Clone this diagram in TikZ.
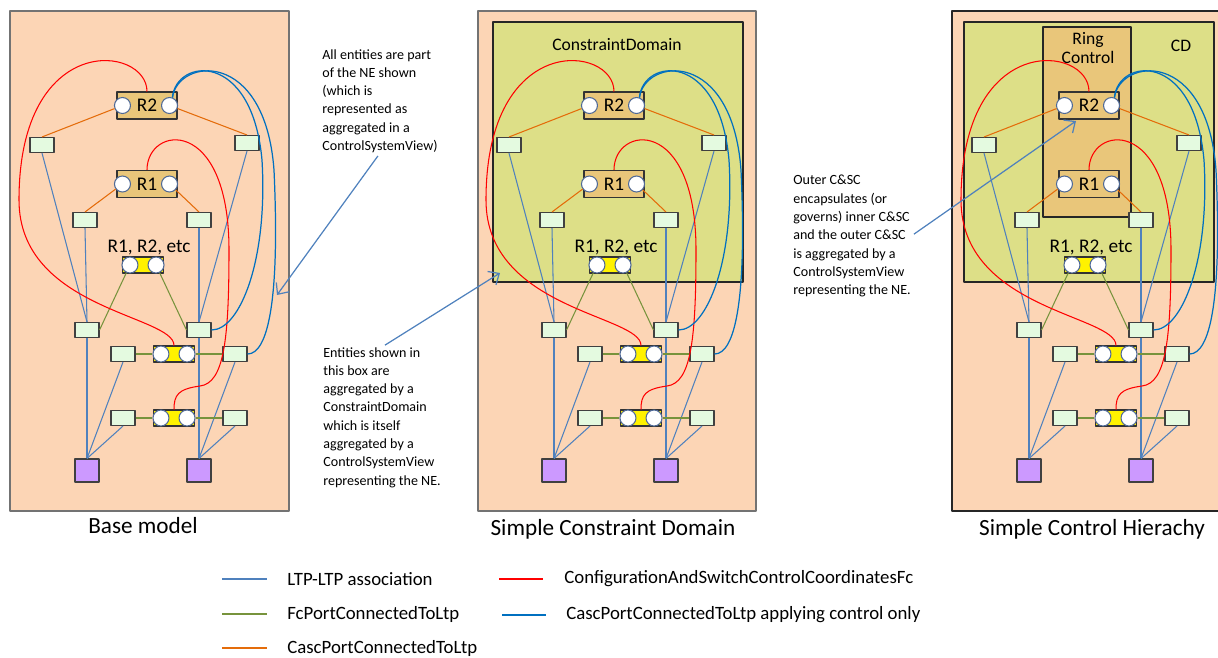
\documentclass[tikz,border=0pt]{standalone}
\usepackage{fontspec}
\setmainfont{Carlito}
\usetikzlibrary{arrows.meta}

\definecolor{peach}{RGB}{252,213,181}
\definecolor{cdgreen}{RGB}{221,223,135}
\definecolor{rtan}{RGB}{233,198,122}
\definecolor{ltpgreen}{RGB}{228,250,224}
\definecolor{lilac}{RGB}{204,153,255}
\definecolor{assoc}{RGB}{79,129,189}
\definecolor{fcport}{RGB}{119,147,60}
\definecolor{casc}{RGB}{228,108,10}
\definecolor{ctrl}{RGB}{0,112,192}
\definecolor{portrim}{RGB}{79,105,150}

\tikzset{
  panel/.style={draw=black!55, fill=peach, line width=0.8pt},
  cdbox/.style={draw=black!85, fill=cdgreen, line width=0.9pt},
  ringbox/.style={draw=black!85, fill=rtan, line width=0.8pt},
  ltp/.style={draw=black!75, fill=ltpgreen, minimum width=0.48cm, minimum height=0.3cm, inner sep=0pt, line width=0.6pt},
  rbox/.style={draw=black!80, fill=rtan, minimum width=1.2cm, minimum height=0.54cm, inner sep=0pt, line width=0.6pt, font=\fontsize{11}{13}\selectfont},
  fcbox/.style={draw=black!80, fill=yellow, minimum width=0.82cm, minimum height=0.32cm, inner sep=0pt, line width=0.6pt},
  port/.style={circle, draw=portrim, fill=white, minimum size=0.32cm, inner sep=0pt, line width=0.6pt},
  nebox/.style={draw=black!75, fill=lilac, minimum width=0.48cm, minimum height=0.46cm, inner sep=0pt, line width=0.6pt},
  assocline/.style={assoc, line width=0.6pt},
  fcline/.style={fcport, line width=0.6pt},
  cascline/.style={casc, line width=0.6pt},
  coordline/.style={red, line width=0.6pt},
  ctrlline/.style={ctrl, line width=0.7pt},
  note/.style={assoc, line width=0.7pt, -{Straight Barb[length=5pt,width=9pt]}, shorten <=2pt},
  notetext/.style={align=left, inner sep=0pt, font=\fontsize{8}{10.4}\selectfont},
  legend/.style={inner sep=0pt, anchor=west, font=\fontsize{10.7}{12}\selectfont},
  title/.style={font=\fontsize{13.2}{15}\selectfont}
}

\begin{document}
\begin{tikzpicture}[x=0.02cm, y=-0.02cm, line join=round]
\useasboundingbox (0,0) rectangle (1218,657);
\clip (0,0) rectangle (1218,657);

\draw[panel] (10,11) rectangle (289,511);
\draw[panel] (478,11) rectangle (756,511);
\draw[panel, draw=black!85] (952,11) rectangle (1230,511);
\draw[cdbox] (493,22) rectangle (743,282);
\draw[cdbox] (964,22) rectangle (1214,282);
\draw[ringbox] (1043,27) rectangle (1131,217);

\node[font=\fontsize{10}{12}\selectfont] (cdname) at (617,45) {ConstraintDomain};
\node[font=\fontsize{10}{12}\selectfont] (cdshort) at (1181,46) {CD};
\node[align=center, font=\fontsize{10}{11.3}\selectfont] (ringname) at (1088,48) {Ring\\Control};

\foreach \p/\dx in {a/0, b/467, c/942} {
\begin{scope}[xshift=\dx*0.02cm]
  \node[rbox] (\p-R2) at (147,105.5) {R2};
  \node[port] (\p-R2a) at ([xshift=0.12cm]\p-R2.west) {};
  \node[port] (\p-R2b) at ([xshift=-0.16cm]\p-R2.east) {};
  \node[rbox] (\p-R1) at (147,184) {R1};
  \node[port] (\p-R1a) at ([xshift=0.12cm]\p-R1.west) {};
  \node[port] (\p-R1b) at ([xshift=-0.16cm]\p-R1.east) {};

  \node[ltp] (\p-L1) at (42,145) {};
  \node[ltp] (\p-L2) at (247,143) {};
  \node[ltp] (\p-L3) at (85,220) {};
  \node[ltp] (\p-L4) at (199,220) {};

  \node[font=\fontsize{11}{13}\selectfont] (\p-etc) at (149,247) {R1, R2, etc};
  \node[fcbox] (\p-F0) at (143,265) {};
  \node[port] (\p-F0a) at ([xshift=0.16cm]\p-F0.west) {};
  \node[port] (\p-F0b) at ([xshift=-0.16cm]\p-F0.east) {};

  \node[ltp] (\p-M1) at (87,330) {};
  \node[ltp] (\p-M2) at (199,330) {};

  \node[ltp] (\p-N1) at (123,354) {};
  \node[fcbox] (\p-F1) at (174,354) {};
  \node[port] (\p-F1a) at ([xshift=0.16cm]\p-F1.west) {};
  \node[port] (\p-F1b) at ([xshift=-0.16cm]\p-F1.east) {};
  \node[ltp] (\p-N2) at (235,354) {};

  \node[ltp] (\p-P1) at (123,418) {};
  \node[fcbox] (\p-F2) at (174,418) {};
  \node[port] (\p-F2a) at ([xshift=0.16cm]\p-F2.west) {};
  \node[port] (\p-F2b) at ([xshift=-0.16cm]\p-F2.east) {};
  \node[ltp] (\p-P2) at (235,418) {};

  \node[nebox] (\p-Q1) at (87,470.5) {};
  \node[nebox] (\p-Q2) at (199,470.5) {};

  \draw[cascline] (\p-R2a) -- (\p-L1.north);
  \draw[cascline] (\p-R2b) -- (\p-L2.north);
  \draw[cascline] (\p-R1a) -- (\p-L3.north);
  \draw[cascline] (\p-R1b) -- (\p-L4.north);

  \draw[assocline] (\p-L1.south) -- (\p-M1.north);
  \draw[assocline] (\p-L3.south) -- (\p-M1.north);
  \draw[assocline] (\p-L2.south) -- (\p-M2.north);
  \draw[assocline] (\p-L4.south) -- (\p-M2.north);
  \draw[assocline] (\p-M1.south) -- (\p-Q1.north);
  \draw[assocline] (\p-N1.south) -- (\p-Q1.north);
  \draw[assocline] (\p-P1.south) -- (\p-Q1.north);
  \draw[assocline] (\p-M2.south) -- (\p-Q2.north);
  \draw[assocline] (\p-N2.south) -- (\p-Q2.north);
  \draw[assocline] (\p-P2.south) -- (\p-Q2.north);

  \draw[fcline] (\p-F0a) -- (\p-M1.east);
  \draw[fcline] (\p-F0b) -- (\p-M2.west);
  \draw[fcline] (\p-N1) -- (\p-F1a);
  \draw[fcline] (\p-F1b) -- (\p-N2);
  \draw[fcline] (\p-P1) -- (\p-F2a);
  \draw[fcline] (\p-F2b) -- (\p-P2);

  \draw[coordline] (\p-R2.north) .. controls (147,45) and (19,30) .. (19,200)
    .. controls (19,310) and (174,315) .. (\p-F1.north);
  \draw[coordline] (\p-R1.north) .. controls (147,125) and (229,115) .. (229,250)
    .. controls (229,340) and (224,383) .. (200,386)
    .. controls (178,389) and (174,395) .. (\p-F2.north);

  \draw[ctrlline] (\p-R2b.70) .. controls (176,58) and (252,50) .. (262,160)
    .. controls (268,260) and (240,330) .. (\p-M2.east);
  \draw[ctrlline] (\p-R2b.70) .. controls (178,58) and (265,48) .. (274,170)
    .. controls (280,300) and (268,354) .. (\p-N2.east);
\end{scope}
}

\node[title] (base) at (143,526) {Base model};
\node[title] (simplecd) at (613,529) {Simple Constraint Domain};
\node[title] (simplech) at (1092,529) {Simple Control Hierachy};

\node[notetext, anchor=north west] (t1) at (322,49) {All entities are part\\of the NE shown\\(which is\\represented as\\aggregated in a\\ControlSystemView)};
\node[notetext, anchor=north west] (t2) at (323,347) {Entities shown in\\this box are\\aggregated by a\\ConstraintDomain\\which is itself\\aggregated by a\\ControlSystemView\\representing the NE.};
\node[notetext, anchor=north west] (t3) at (793,175) {Outer C\&SC\\encapsulates (or\\governs) inner C\&SC\\and the outer C\&SC\\is aggregated by a\\ControlSystemView\\representing the NE.};

\coordinate (tip1) at (277,295);
\coordinate (tip2) at (500,273);
\coordinate (tip3) at (1076,121);
\draw[note] (t1.south) -- (tip1);
\draw[note] (t2.north) -- (tip2);
\draw[note] (t3.east) -- (tip3);

\node[legend] (g1) at (287,579) {LTP-LTP association};
\node[legend] (g2) at (564,579) {ConfigurationAndSwitchControlCoordinatesFc};
\node[legend] (g3) at (287,614) {FcPortConnectedToLtp};
\node[legend] (g4) at (566,615) {CascPortConnectedToLtp applying control only};
\node[legend] (g5) at (287,648) {CascPortConnectedToLtp};
\draw[assocline] ([xshift=-1.3cm]g1.west) -- ([xshift=-0.4cm]g1.west);
\draw[coordline] ([xshift=-1.3cm]g2.west) -- ([xshift=-0.42cm]g2.west);
\draw[fcline] ([xshift=-1.3cm]g3.west) -- ([xshift=-0.4cm]g3.west);
\draw[ctrlline] ([xshift=-1.28cm]g4.west) -- ([xshift=-0.4cm]g4.west);
\draw[cascline] ([xshift=-1.3cm]g5.west) -- ([xshift=-0.4cm]g5.west);
\end{tikzpicture}
\end{document}
